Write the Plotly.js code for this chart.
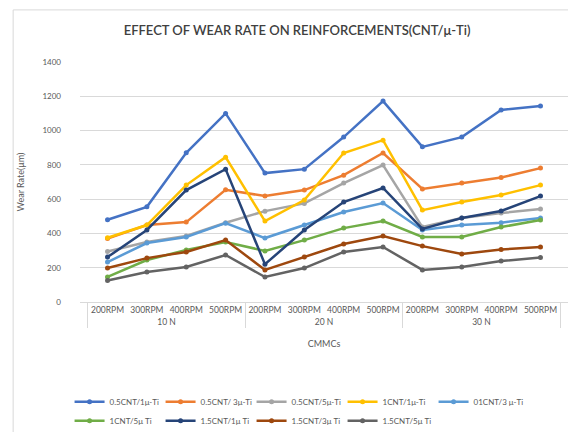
<!DOCTYPE html>
<html>
<head>
<meta charset="utf-8">
<script src="https://cdn.plot.ly/plotly-3.0.1.min.js"></script>
<style>html,body{margin:0;padding:0;background:#fff;}#chart{width:568px;height:432px;}</style>
</head>
<body>
<div id="chart"></div>
<script>
var loads = ["10 N","10 N","10 N","10 N","20 N","20 N","20 N","20 N","30 N","30 N","30 N","30 N"];
var speeds = ["200RPM","300RPM","400RPM","500RPM","200RPM","300RPM","400RPM","500RPM","200RPM","300RPM","400RPM","500RPM"];

var seriesNames = ["0.5CNT/1\u03bc-Ti","0.5CNT/ 3\u03bc-Ti","0.5CNT/5\u03bc-Ti","1CNT/1\u03bc-Ti","01CNT/3 \u03bc-Ti",
                   "1CNT/5\u03bc Ti","1.5CNT/1\u03bc Ti","1.5CNT/3\u03bc Ti","1.5CNT/5\u03bc Ti"];
var s1 = [480, 555, 870, 1100, 752, 775, 962, 1172, 905, 962, 1120, 1143];
var s2 = [370, 449, 466, 655, 618, 653, 740, 869, 659, 694, 726, 781];
var s3 = [295, 350, 385, 462, 530, 575, 694, 799, 437, 490, 519, 542];
var s4 = [375, 449, 682, 845, 472, 595, 869, 944, 536, 583, 624, 682];
var s5 = [233, 344, 379, 460, 373, 449, 525, 577, 420, 449, 463, 490];
var s6 = [146, 245, 303, 350, 298, 361, 431, 472, 379, 379, 437, 478];
var s7 = [262, 420, 653, 775, 220, 420, 583, 665, 426, 490, 531, 618];
var s8 = [198, 256, 292, 361, 187, 262, 338, 385, 326, 280, 306, 321];
var s9 = [125, 175, 204, 274, 146, 198, 292, 321, 187, 204, 239, 259];
var colors = ["#4472C4","#ED7D31","#A5A5A5","#FFC000","#5B9BD5","#70AD47","#264478","#9E480E","#636363"];

var allSeries = [s1,s2,s3,s4,s5,s6,s7,s8,s9];
var traces = allSeries.map(function(vals, i){
  return {
    type: "scatter", mode: "lines+markers",
    x: [loads, speeds], y: vals, name: seriesNames[i],
    line: {color: colors[i], width: 2.5},
    marker: {color: colors[i], size: 5, symbol: "circle"}
  };
});

var font = "Lato, 'Open Sans', sans-serif";
var layout = {
  width: 568, height: 432,
  margin: {l: 80, r: 0, t: 62, b: 130},
  paper_bgcolor: "#ffffff", plot_bgcolor: "#ffffff",
  font: {family: font, color: "#595959", size: 9},
  title: {text: "EFFECT OF WEAR RATE ON REINFORCEMENTS(CNT/\u03bc-Ti)",
          font: {family: font, size: 13, color: "#404040", weight: 600},
          x: 0.523, xref: "container", xanchor: "center", y: 0.93, yref: "container", yanchor: "middle"},
  xaxis: {
    type: "multicategory",
    showgrid: false, showline: true, linecolor: "#d9d9d9", linewidth: 1,
    ticks: "", tickangle: 0, tickfont: {size: 8.5, color: "#595959"},
    showdividers: true, dividercolor: "#d9d9d9", dividerwidth: 1,
    title: {text: "CMMCs", font: {size: 9, color: "#595959"}, standoff: 14},
    fixedrange: true
  },
  yaxis: {
    range: [0, 1400], dtick: 200, tick0: 0,
    showgrid: true, gridcolor: "#d9d9d9", gridwidth: 1,
    zeroline: false, showline: false, ticks: "",
    tickfont: {size: 8, color: "#595959"}, ticklabelstandoff: 18,
    title: {text: "Wear Rate(\u03bcm)", font: {size: 9, color: "#595959"}, standoff: 16}
  },
  showlegend: true,
  legend: {
    orientation: "h", x: 0.523, xref: "container", xanchor: "center",
    y: 0.048, yref: "container", yanchor: "middle",
    font: {size: 8, color: "#595959"}, entrywidth: 46, entrywidthmode: "pixels",
    itemwidth: 30, tracegroupgap: 0, bgcolor: "rgba(0,0,0,0)"
  },
  shapes: [{type: "rect", xref: "paper", yref: "paper", x0: -0.137, x1: 1.3, y0: -2, y1: 1.217,
            line: {color: "#d9d9d9", width: 1}, fillcolor: "rgba(0,0,0,0)", layer: "below"}]
};

Plotly.newPlot("chart", traces, layout, {displayModeBar: false, staticPlot: true});
</script>
</body>
</html>
